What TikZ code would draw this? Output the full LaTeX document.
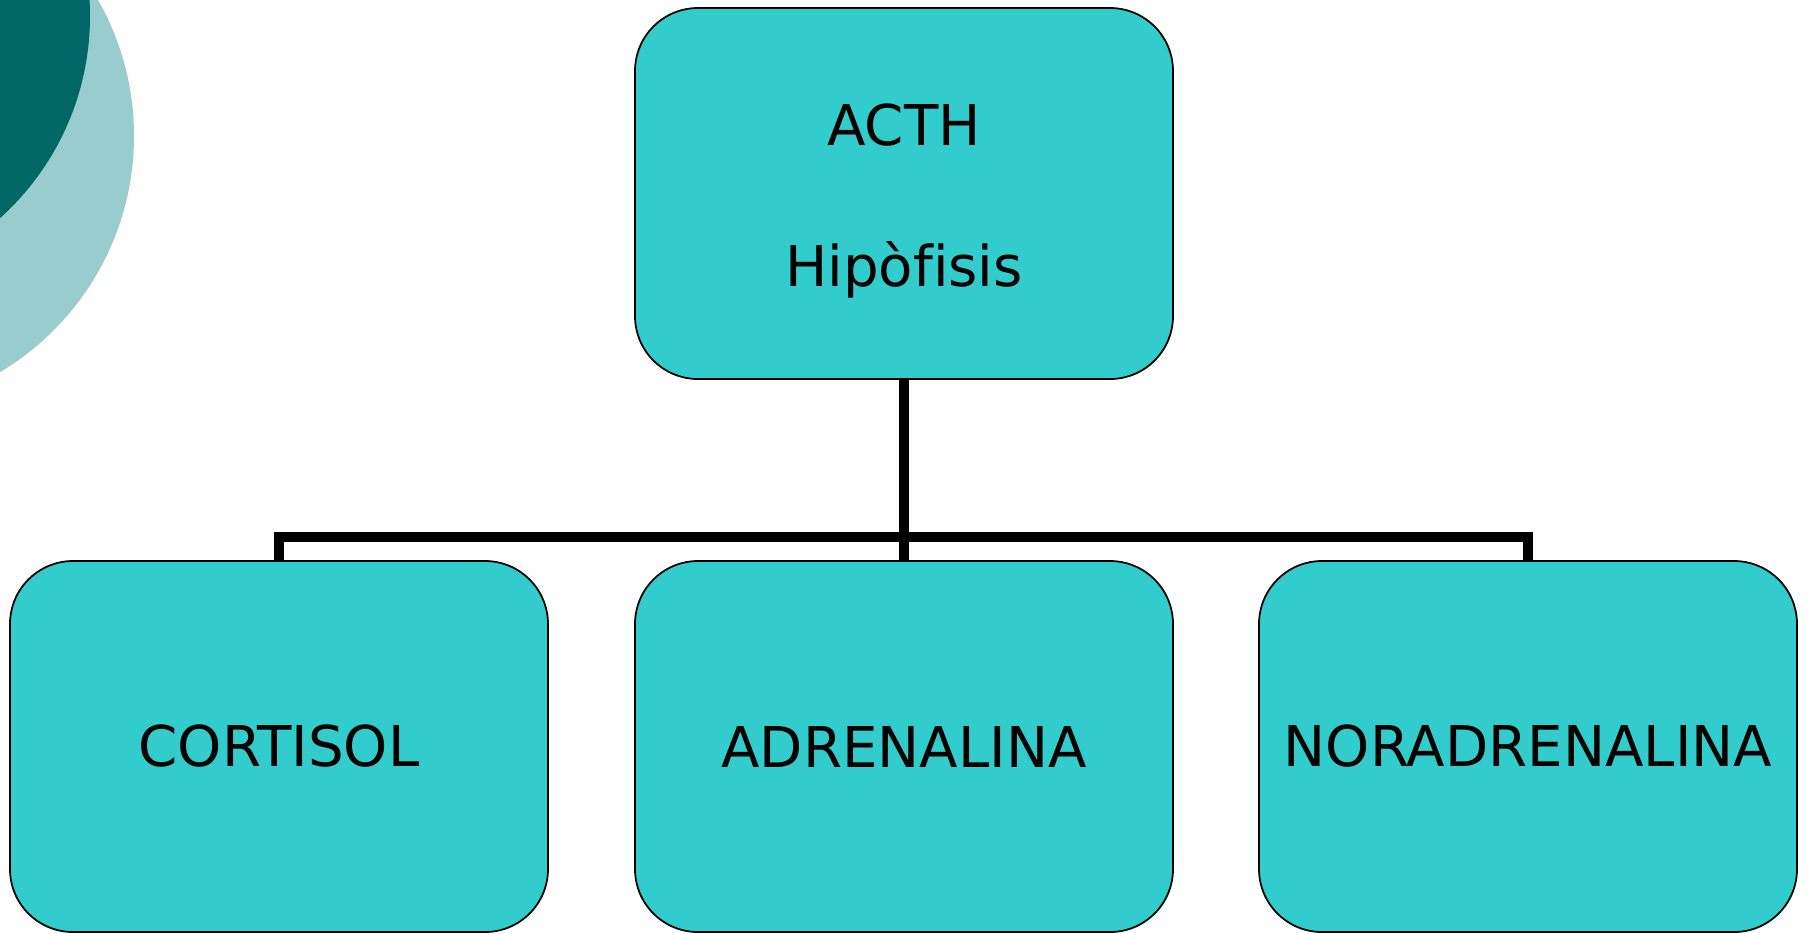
\documentclass[tikz,border=0pt]{standalone}
\usepackage{fontspec}
\setmainfont{DejaVu Sans}[Ligatures=NoCommon]
\definecolor{boxfill}{RGB}{51,204,204}
\definecolor{darkteal}{RGB}{0,102,102}
\definecolor{lightteal}{RGB}{153,204,204}
\begin{document}
\begin{tikzpicture}[x=0.1mm,y=-0.1mm]

        \useasboundingbox (0,0) rectangle (1808,933);

        % corner decoration
        \begin{scope}
          \clip (0,0) rectangle (1808,933);
          \fill[lightteal] (-141,136) circle[radius=27.5mm];
          \fill[darkteal] (-182,16) circle[radius=27.2mm];
        \end{scope}

        \begin{scope}[every node/.style={draw,line width=0.5pt,fill=boxfill,
            rounded corners=6.3mm,minimum width=53.8mm,minimum height=37.1mm,
            align=center,font=\fontsize{16}{19.2}\selectfont}]
          \node (acth)  at (904,193.5)  {\rule{0pt}{16.3pt}ACTH\\[21pt]Hipòfisis};
          \node (cort)  at (279,746.5)  {CORTISOL};
          \node (adren) at (904,746.5)  {ADRENALINA};
          \node (nor)   at (1528,746.5) {NORADRENALINA};
        \end{scope}

        \coordinate (bus) at (904,537);

        \begin{scope}[line width=3pt]
          \draw (cort.north) -- (cort.north |- bus) -- (nor.north |- bus) -- (nor.north);
          \draw (acth.south) -- (adren.north);
        \end{scope}

      \end{tikzpicture}
\end{document}
